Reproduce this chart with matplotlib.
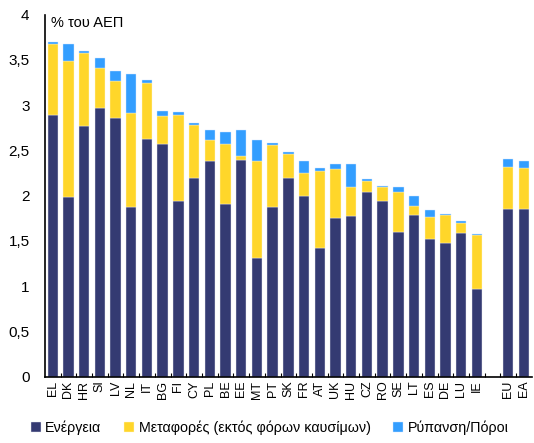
import numpy as np
import matplotlib.pyplot as plt
from matplotlib.ticker import FixedLocator, FuncFormatter

plt.rcParams['font.family'] = ['Liberation Sans', 'DejaVu Sans']

countries = ['EL', 'DK', 'HR', 'SI', 'LV', 'NL', 'IT', 'BG', 'FI', 'CY', 'PL', 'BE', 'EE', 'MT',
             'PT', 'SK', 'FR', 'AT', 'UK', 'HU', 'CZ', 'RO', 'SE', 'LT', 'ES', 'DE', 'LU', 'IE',
             '', 'EU', 'EA']
energy = [2.89, 1.98, 2.77, 2.97, 2.86, 1.87, 2.63, 2.57, 1.94, 2.19, 2.38, 1.91, 2.39, 1.31,
          1.87, 2.19, 1.99, 1.42, 1.75, 1.77, 2.04, 1.94, 1.60, 1.79, 1.52, 1.48, 1.59, 0.97,
          0, 1.85, 1.85]
transport = [0.79, 1.51, 0.81, 0.44, 0.41, 1.04, 0.61, 0.31, 0.95, 0.59, 0.23, 0.66, 0.05, 1.07,
             0.69, 0.27, 0.26, 0.85, 0.54, 0.33, 0.12, 0.15, 0.44, 0.09, 0.24, 0.31, 0.11, 0.59,
             0, 0.47, 0.45]
pollution = [0.02, 0.18, 0.02, 0.11, 0.11, 0.43, 0.04, 0.06, 0.03, 0.02, 0.11, 0.13, 0.28, 0.23,
             0.02, 0.02, 0.13, 0.03, 0.06, 0.25, 0.02, 0.02, 0.05, 0.11, 0.08, 0.005, 0.02, 0.02,
             0, 0.08, 0.08]

c_en = '#343A72'
c_tr = '#FFD62A'
c_po = '#339EFF'

fig = plt.figure(figsize=[5.34, 4.43], dpi=100)
ax = fig.add_axes([0.084, 0.150, 0.912, 0.817])

x = np.arange(len(countries))
en = np.array(energy)
tr = np.array(transport)
po = np.array(pollution)
w = 0.66
ax.bar(x, en, width=w, color=c_en, label='Ενέργεια', edgecolor='#e8e8f0', linewidth=0.3)
ax.bar(x, tr, width=w, bottom=en, color=c_tr, label='Μεταφορές (εκτός φόρων καυσίμων)',
       edgecolor='#fff6d0', linewidth=0.3)
ax.bar(x, po, width=w, bottom=en + tr, color=c_po, label='Ρύπανση/Πόροι',
       edgecolor='#cfe6ff', linewidth=0.3)

ax.set_xlim(-0.5, len(countries) - 0.5)
ax.set_ylim(0, 4)
ax.set_yticks(np.arange(0, 4.01, 0.5))
ax.yaxis.set_major_formatter(FuncFormatter(lambda v, p: f'{v:g}'.replace('.', ',')))
ax.tick_params(axis='y', length=0, labelsize=11, pad=11)

ax.set_xticks(x)
ax.set_xticklabels(countries, rotation=90, fontsize=9)
ax.tick_params(axis='x', which='major', length=0, pad=3)
ax.xaxis.set_minor_locator(FixedLocator(np.arange(0.5, len(countries) - 1, 1)))
ax.tick_params(axis='x', which='minor', direction='in', length=3, width=0.8)

for s in ['top', 'right']:
    ax.spines[s].set_visible(False)
ax.spines['left'].set_linewidth(1.2)
ax.spines['bottom'].set_linewidth(1.2)

ax.text(0.012, 0.995, '% του ΑΕΠ', transform=ax.transAxes, ha='left', va='top', fontsize=10.5)

fig.legend(loc='lower center', bbox_to_anchor=(0.505, -0.012), ncol=3, frameon=False, fontsize=10.3,
           handlelength=0.7, handleheight=0.7, handletextpad=0.3, columnspacing=1.6)

fig.savefig('out.png', dpi=100)
